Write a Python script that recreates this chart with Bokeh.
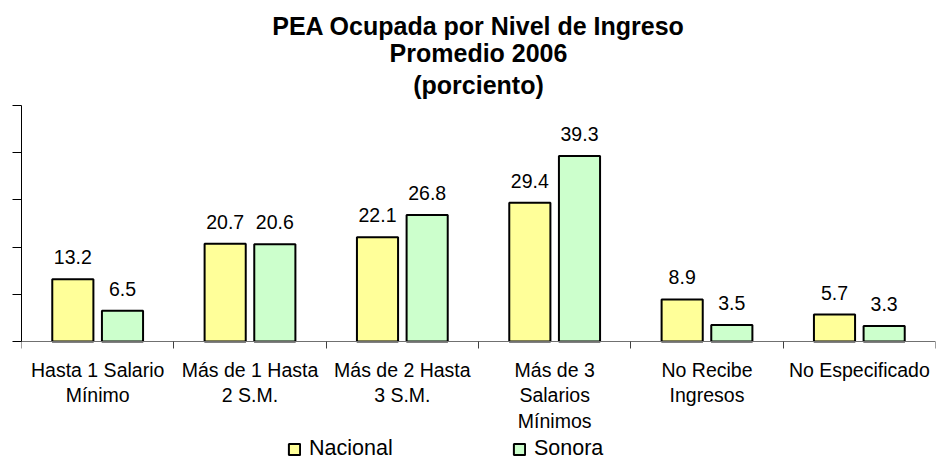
from bokeh.plotting import figure
from bokeh.models import (Range1d, LinearAxis, FixedTicker, Legend, LegendItem,
                          ColumnDataSource, Title)
from bokeh.transform import dodge
from bokeh.embed import file_html
from bokeh.resources import INLINE

# ---- data ----
categories = ["Hasta 1 Salario\nMínimo", "Más de 1 Hasta\n2 S.M.", "Más de 2 Hasta\n3 S.M.",
              "Más de 3\nSalarios\nMínimos", "No Recibe\nIngresos", "No Especificado"]
nacional = [13.2, 20.7, 22.1, 29.4, 8.9, 5.7]
sonora = [6.5, 20.6, 26.8, 39.3, 3.5, 3.3]
series_names = ["Nacional", "Sonora"]
y_ticks = [0, 10, 20, 30, 40, 50]
title_lines = ["PEA Ocupada por Nivel de Ingreso", "Promedio 2006", "(porciento)"]

# ---- style ----
FONT = "Liberation Sans"
colors = ["#FFFF99", "#CCFFCC"]
n = len(categories)
centers = [i + 0.5 for i in range(n)]
boundaries = list(range(n + 1))

src = ColumnDataSource(dict(
    x=centers, nac=nacional, son=sonora,
    nac_lbl=[f"{v:.1f}" for v in nacional],
    son_lbl=[f"{v:.1f}" for v in sonora],
))

# frame: 0..50 occupies 236px; extra 118px below zero holds axis labels + legend
p = figure(width=936, height=459, x_range=Range1d(0, n), y_range=Range1d(-25.0, 50),
           output_backend="svg", toolbar_location=None,
           x_axis_location=None, y_axis_location=None,
           min_border_left=21, min_border_right=1, min_border_top=105, min_border_bottom=0)
p.outline_line_color = None
p.xgrid.visible = False
p.ygrid.visible = False
p.background_fill_color = "white"
p.border_fill_color = "white"
p.title.text = ""
p.title.visible = False

standoffs = [4, -10, 14]
for line, so in reversed(list(zip(title_lines, standoffs))):
    p.add_layout(Title(text=line, align="center", text_font=FONT, text_font_size="25px",
                       text_font_style="bold", text_color="black", standoff=so), "above")

OFF = 0.163
W = 0.27
r1 = p.vbar(x=dodge("x", -OFF, range=p.x_range), top="nac", width=W, bottom=0, source=src,
            fill_color=colors[0], line_color="black", line_width=2)
r2 = p.vbar(x=dodge("x", OFF, range=p.x_range), top="son", width=W, bottom=0, source=src,
            fill_color=colors[1], line_color="black", line_width=2)

for col, lbl, d in (("nac", "nac_lbl", -OFF), ("son", "son_lbl", OFF)):
    p.text(x=dodge("x", d, range=p.x_range), y=col, text=lbl, source=src,
           text_align="center", text_baseline="alphabetic", y_offset=-22,
           text_font={"value": FONT}, text_font_size="19.5px", text_color="black")

# y axis (ticks only)
yax = LinearAxis(ticker=FixedTicker(ticks=y_ticks), bounds=(0, 50),
                 major_tick_out=9, major_tick_in=0, minor_tick_out=0, minor_tick_in=0,
                 major_label_overrides={t: "" for t in y_ticks},
                 major_label_text_font_size="0px", major_label_standoff=0,
                 axis_line_color="black", major_tick_line_color="black")
p.add_layout(yax, "left")

# x axis ticks at category boundaries (drawn at value 0)
xtick = LinearAxis(ticker=FixedTicker(ticks=boundaries), fixed_location=0,
                   major_tick_out=7, major_tick_in=0, minor_tick_out=0, minor_tick_in=0,
                   major_label_overrides={t: "" for t in boundaries},
                   major_label_text_font_size="0px", major_label_standoff=0,
                   axis_line_color="#707070", major_tick_line_color="#404040")
p.add_layout(xtick, "below")

# x axis category labels
xlab = LinearAxis(ticker=FixedTicker(ticks=centers), fixed_location=0,
                  major_tick_out=0, major_tick_in=0, minor_tick_out=0, minor_tick_in=0,
                  major_label_overrides={c: t for c, t in zip(centers, categories)},
                  major_label_text_font=FONT, major_label_text_font_size="19.5px",
                  major_label_text_color="black", major_label_text_line_height=1.17,
                  major_label_standoff=17, major_label_text_align="center",
                  axis_line_color=None, major_tick_line_color=None)
p.add_layout(xlab, "below")

legend = Legend(items=[LegendItem(label=series_names[0], renderers=[r1]),
                       LegendItem(label=series_names[1], renderers=[r2])],
                orientation="horizontal", location=(266, -2),
                glyph_width=14, glyph_height=14, label_standoff=8, label_width=203,
                label_height=14, spacing=0, padding=0, margin=0, border_line_color=None,
                background_fill_alpha=0, label_text_font=FONT, label_text_font_size="21.5px",
                label_text_color="black")
p.add_layout(legend, "center")

open("out.html", "w").write(file_html(p, INLINE))
